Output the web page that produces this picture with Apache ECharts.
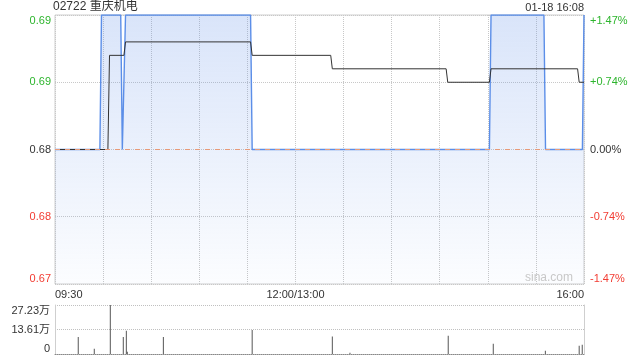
<!DOCTYPE html>
<html><head><meta charset="utf-8">
<script src="https://cdn.jsdelivr.net/npm/echarts@6/dist/echarts.min.js"></script>
<style>html,body{margin:0;padding:0;background:#fff}#c{width:640px;height:360px}</style>
</head><body><div id="c"></div>
<script>
// ---- data ----
const stockTitle = '02722 重庆机电';
const stampText = '01-18 16:08';
const prevClose = 0.68;
// minutes since 09:30 (trading minutes, lunch removed)
const priceTimes = [0, 28, 29, 41, 42, 43, 44, 122, 123, 271, 272, 305, 306, 329, 330];
const priceVals  = [0.68, 0.68, 0.69, 0.69, 0.68, 0.68, 0.69, 0.69, 0.68, 0.68, 0.69, 0.69, 0.68, 0.68, 0.69];
const avgTimes = [0, 33, 34, 43, 44, 122, 123, 172, 173, 244, 245, 271, 272, 326, 327, 330];
const avgVals  = [0.68, 0.68, 0.687, 0.687, 0.688, 0.688, 0.687, 0.687, 0.686, 0.686, 0.685, 0.685, 0.686, 0.686, 0.685, 0.685];
const volTimes = [14.5, 24.5, 34.5, 42.6, 44.5, 45.1, 67.6, 123, 173, 184, 245.3, 273.4, 305.9, 327, 328.9];
const volVals  = [94000, 29000, 272300, 94000, 129000, 13000, 94000, 134000, 97000, 7000, 101000, 57000, 18000, 46000, 51000];
const timeTickMinutes = [0, 150, 330];
const timeTickLabels = ['09:30', '12:00/13:00', '16:00'];
const volTickLabels = ['0', '13.61万', '27.23万'];
const volMax = 272300;

const FONT = '"Liberation Sans", Arial, "Noto Sans CJK SC", sans-serif';
const near = (a, b) => Math.abs(a - b) < 1e-7;
const pair = (xs, ys) => xs.map((x, i) => [x, ys[i]]);

const chart = echarts.init(document.getElementById('c'), null, {renderer: 'canvas'});
chart.setOption({
  animation: false,
  textStyle: {fontFamily: FONT},
  title: [
    {text: stockTitle, left: 53, top: 1, padding: 0, textStyle: {fontSize: 12, fontWeight: 'normal', color: '#333', fontFamily: FONT}},
    {text: stampText, right: 56, top: 2, padding: 0, textStyle: {fontSize: 11, fontWeight: 'normal', color: '#333', fontFamily: FONT}},
    {text: 'sina.com', right: 67, top: 272, padding: 0, textStyle: {fontSize: 12, fontWeight: 'normal', color: '#c8c8c8', fontFamily: FONT}}
  ],
  grid: [
    {left: 55, right: 56, top: 15, height: 269, show: true, borderColor: '#cfcfcf', borderWidth: 1, backgroundColor: 'transparent'},
    {left: 55, right: 56, top: 305, height: 49}
  ],
  xAxis: [
    {type: 'value', gridIndex: 0, min: 0, max: 330, interval: 30,
     axisLine: {show: false}, axisTick: {show: false},
     splitLine: {show: true, lineStyle: {type: 'dotted', color: '#c8c8c8'}},
     axisLabel: {show: true, margin: 5, fontSize: 11, color: '#333', fontFamily: FONT,
       alignMinLabel: 'left', alignMaxLabel: 'right',
       formatter: v => { const i = timeTickMinutes.indexOf(v); return i >= 0 ? timeTickLabels[i] : ''; }}},
    {type: 'value', gridIndex: 1, min: 0, max: 330, interval: 30,
     axisLine: {show: true, lineStyle: {type: 'dotted', color: '#888'}}, axisTick: {show: false},
     splitLine: {show: false}, axisLabel: {show: false}}
  ],
  yAxis: [
    {type: 'value', gridIndex: 0, min: 0.67, max: 0.69, interval: 0.005, position: 'left',
     axisLine: {show: false}, axisTick: {show: false},
     splitLine: {show: true, lineStyle: {type: 'dotted', color: '#c8c8c8'}},
     axisLabel: {fontSize: 11, margin: 4, fontFamily: FONT,
       verticalAlignMinLabel: 'bottom', verticalAlignMaxLabel: 'top',
       formatter: v => Number(v).toFixed(2),
       color: v => { v = Number(v); return near(v, prevClose) ? '#333' : (v > prevClose ? '#2db52d' : '#f23c32'); }}},
    {type: 'value', gridIndex: 0, min: 0.67, max: 0.69, interval: 0.005, position: 'right',
     axisLine: {show: false}, axisTick: {show: false}, splitLine: {show: false},
     axisLabel: {fontSize: 11, margin: 6, fontFamily: FONT,
       verticalAlignMinLabel: 'bottom', verticalAlignMaxLabel: 'top',
       formatter: v => { v = Number(v); if (near(v, prevClose)) return '0.00%'; const p = (v - prevClose) / prevClose * 100; return (p > 0 ? '+' : '') + p.toFixed(2) + '%'; },
       color: v => { v = Number(v); return near(v, prevClose) ? '#333' : (v > prevClose ? '#2db52d' : '#f23c32'); }}},
    {type: 'value', gridIndex: 1, min: 0, max: volMax, interval: volMax / 2, position: 'left',
     axisLine: {show: true, lineStyle: {color: '#cfcfcf'}}, axisTick: {show: false},
     splitLine: {show: true, lineStyle: {type: 'dotted', color: '#c0c0c0'}},
     axisLabel: {fontSize: 11, margin: 5, color: '#333', fontFamily: FONT,
       verticalAlignMinLabel: 'bottom', verticalAlignMaxLabel: 'top',
       formatter: (v, i) => volTickLabels[i]}},
    {type: 'value', gridIndex: 1, min: 0, max: volMax, interval: volMax / 2, position: 'right',
     axisLine: {show: true, lineStyle: {color: '#cfcfcf'}}, axisTick: {show: false},
     splitLine: {show: false}, axisLabel: {show: false}}
  ],
  series: [
    {type: 'line', xAxisIndex: 0, yAxisIndex: 0, data: [], z: 1, silent: true,
     markLine: {symbol: 'none', silent: true, label: {show: false},
       lineStyle: {type: [5, 5], color: '#e89a78', width: 1},
       data: [{yAxis: prevClose}]}},
    {type: 'line', xAxisIndex: 0, yAxisIndex: 0, data: pair(priceTimes, priceVals),
     symbol: 'none', z: 2,
     lineStyle: {color: '#5b8ee8', width: 1.4},
     areaStyle: {origin: 'start', color: new echarts.graphic.LinearGradient(0, 0, 0, 1, [
       {offset: 0, color: 'rgba(92,140,232,0.33)'},
       {offset: 1, color: 'rgba(92,140,232,0.03)'}])}},
    {type: 'line', xAxisIndex: 0, yAxisIndex: 0, data: pair(avgTimes, avgVals),
     symbol: 'none', z: 3, lineStyle: {color: '#333', width: 1}},
    {type: 'bar', xAxisIndex: 1, yAxisIndex: 2, data: pair(volTimes, volVals),
     barWidth: 1, itemStyle: {color: '#555'}}
  ]
});
</script></body></html>
